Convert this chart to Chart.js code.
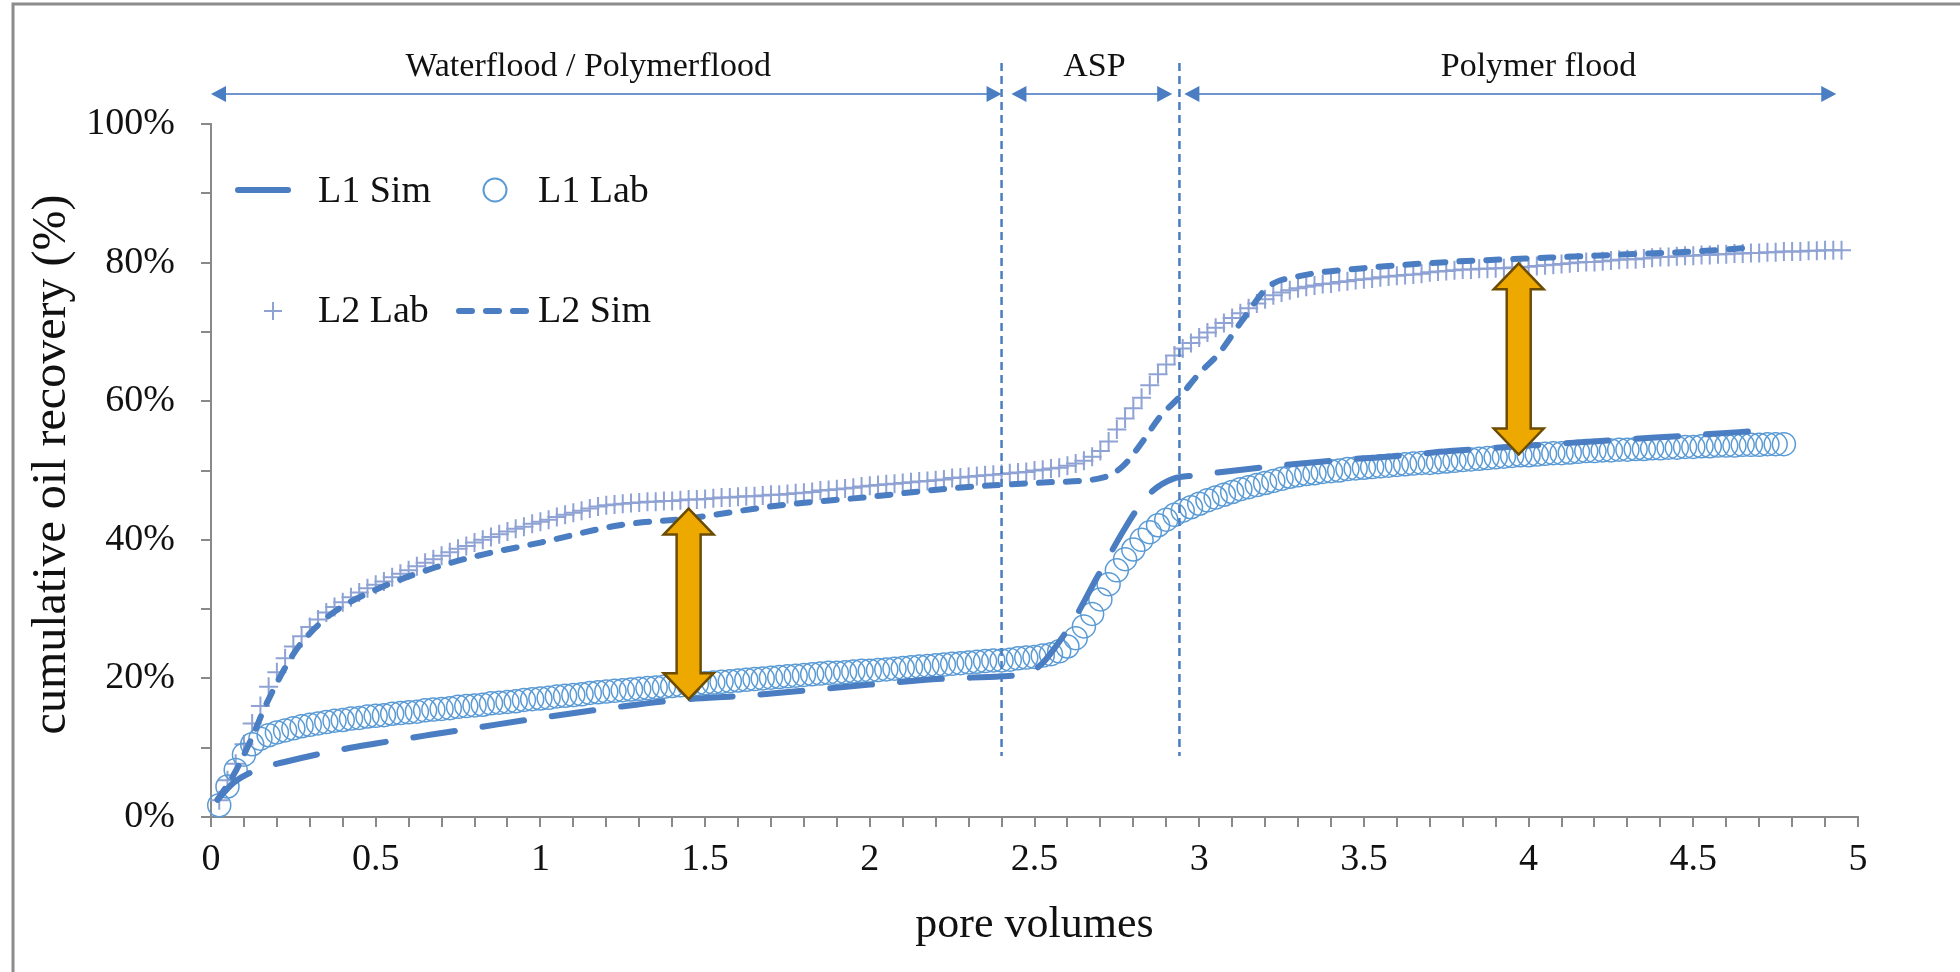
<!DOCTYPE html>
<html>
<head>
<meta charset="utf-8">
<script src="https://cdn.jsdelivr.net/npm/chart.js@4.4.0/dist/chart.umd.min.js"></script>
<style>
html,body{margin:0;padding:0;background:#fff;}
canvas{display:block;}
</style>
</head>
<body>
<canvas id="myChart" width="1960" height="972"></canvas>
<script>
// pore volumes at which the lab recoveries were read
const pvLab = [
  0.025,0.05,0.075,0.1,0.125,0.15,0.175,0.2,0.225,0.25,0.275,0.3,0.325,0.35,0.375,0.4,0.425,0.45,0.475,0.5,
  0.525,0.55,0.575,0.6,0.625,0.65,0.675,0.7,0.725,0.75,0.775,0.8,0.825,0.85,0.875,0.9,0.925,0.95,0.975,1,
  1.025,1.05,1.075,1.1,1.125,1.15,1.175,1.2,1.225,1.25,1.275,1.3,1.325,1.35,1.375,1.4,1.425,1.45,1.475,1.5,
  1.525,1.55,1.575,1.6,1.625,1.65,1.675,1.7,1.725,1.75,1.775,1.8,1.825,1.85,1.875,1.9,1.925,1.95,1.975,2,
  2.025,2.05,2.075,2.1,2.125,2.15,2.175,2.2,2.225,2.25,2.275,2.3,2.325,2.35,2.375,2.4,2.425,2.45,2.475,2.5,
  2.525,2.55,2.575,2.6,2.625,2.65,2.675,2.7,2.725,2.75,2.775,2.8,2.825,2.85,2.875,2.9,2.925,2.95,2.975,3,
  3.025,3.05,3.075,3.1,3.125,3.15,3.175,3.2,3.225,3.25,3.275,3.3,3.325,3.35,3.375,3.4,3.425,3.45,3.475,3.5,
  3.525,3.55,3.575,3.6,3.625,3.65,3.675,3.7,3.725,3.75,3.775,3.8,3.825,3.85,3.875,3.9,3.925,3.95,3.975,4,
  4.025,4.05,4.075,4.1,4.125,4.15,4.175,4.2,4.225,4.25,4.275,4.3,4.325,4.35,4.375,4.4,4.425,4.45,4.475,4.5,
  4.525,4.55,4.575,4.6,4.625,4.65,4.675,4.7,4.725,4.75,4.775,4.8,4.825,4.85,4.875,4.9,4.925,4.95
];

// L1 lab recovery (%)
const l1Lab = [
  1.7,4.4,6.8,9.0,10.5,11.3,11.8,12.2,12.5,12.8,13.1,13.3,13.5,13.7,13.9,14.0,14.2,14.3,14.5,14.6,
  14.7,14.9,15.0,15.1,15.2,15.4,15.5,15.6,15.7,15.9,16.0,16.1,16.2,16.4,16.5,16.6,16.7,16.9,17.0,17.1,
  17.2,17.4,17.5,17.6,17.7,17.9,18.0,18.1,18.2,18.3,18.4,18.5,18.6,18.7,18.8,18.9,19.0,19.1,19.2,19.3,
  19.4,19.5,19.6,19.7,19.8,19.9,20.0,20.1,20.2,20.3,20.4,20.5,20.6,20.7,20.8,20.8,20.9,21.0,21.1,21.1,
  21.2,21.3,21.4,21.5,21.6,21.7,21.8,21.9,22.0,22.1,22.2,22.3,22.4,22.5,22.6,22.6,22.7,22.9,23.0,23.1,
  23.3,23.5,23.9,24.6,25.8,27.5,29.3,31.4,33.6,35.6,37.2,38.6,40.0,41.1,42.1,42.9,43.6,44.2,44.7,45.2,
  45.7,46.1,46.5,46.9,47.3,47.6,47.9,48.2,48.5,48.8,49.1,49.3,49.5,49.6,49.8,49.9,50.0,50.2,50.3,50.4,
  50.5,50.6,50.7,50.8,50.9,51.0,51.1,51.1,51.2,51.3,51.4,51.5,51.6,51.7,51.8,51.9,52.0,52.1,52.2,52.2,
  52.3,52.4,52.5,52.5,52.6,52.7,52.8,52.8,52.9,52.9,53.0,53.0,53.1,53.1,53.2,53.2,53.3,53.3,53.4,53.4,
  53.5,53.5,53.6,53.6,53.6,53.7,53.7,53.7,53.8,53.8,53.8
];

// L2 lab recovery (%)
const l2Lab = [
  2.4,5.3,7.7,10.5,13.5,16.0,18.8,20.9,22.9,24.6,26.1,27.4,28.5,29.5,30.3,31.0,31.7,32.4,33.0,33.5,
  34.0,34.6,35.1,35.6,36.2,36.7,37.2,37.7,38.2,38.7,39.1,39.6,40.0,40.4,40.8,41.2,41.6,41.9,42.3,42.6,
  42.9,43.3,43.6,43.9,44.2,44.5,44.8,45.0,45.1,45.2,45.3,45.4,45.5,45.5,45.6,45.6,45.7,45.8,45.8,45.9,
  46.0,46.1,46.1,46.2,46.3,46.3,46.4,46.5,46.5,46.6,46.7,46.8,46.9,47.1,47.2,47.3,47.4,47.5,47.7,47.8,
  47.9,48.0,48.1,48.2,48.3,48.4,48.5,48.6,48.7,48.9,49.0,49.1,49.2,49.3,49.4,49.5,49.6,49.7,49.8,50.0,
  50.1,50.3,50.4,50.7,51.0,51.4,52.0,52.8,54.2,55.9,57.5,59.0,60.5,62.3,63.9,65.3,66.6,67.6,68.4,69.2,
  69.9,70.6,71.3,72.0,72.7,73.4,74.1,74.7,75.3,75.7,76.0,76.3,76.5,76.7,76.9,77.0,77.2,77.3,77.5,77.6,
  77.7,77.9,78.0,78.1,78.2,78.3,78.4,78.6,78.7,78.8,78.9,79.0,79.0,79.1,79.1,79.2,79.2,79.3,79.3,79.4,
  79.5,79.6,79.7,79.8,79.9,80.0,80.1,80.1,80.2,80.3,80.4,80.5,80.5,80.6,80.7,80.8,80.8,80.9,81.0,81.0,
  81.1,81.1,81.2,81.2,81.3,81.3,81.4,81.4,81.5,81.5,81.6,81.6,81.6,81.7,81.7,81.8,81.8,81.8
];

// simulation curves
const l1SimPV = [0.02,0.07,0.15,0.22,0.37,0.5,0.67,0.82,1.0,1.24,1.4,1.65,2.0,2.24,2.4,2.48,2.52,2.56,2.62,2.69,2.73,2.77,2.81,2.86,2.92,2.99,3.2,3.4,3.6,3.76,4.0,4.3,4.5,4.72];
const l1Sim = [2.5,5.0,7.0,7.9,9.5,10.6,11.9,13.0,14.3,15.9,16.8,17.6,19.1,20.0,20.3,20.8,22.0,24.3,28.5,34.6,38.0,41.3,44.3,47.1,48.8,49.3,50.5,51.4,52.1,52.8,53.6,54.5,55.1,55.8];
const l2SimPV = [0.02,0.07,0.12,0.17,0.25,0.3,0.38,0.5,0.68,0.81,1.0,1.24,1.45,1.73,2.0,2.24,2.54,2.71,2.77,2.83,2.88,2.94,3.0,3.06,3.13,3.21,3.3,3.5,3.76,4.0,4.25,4.5,4.69];
const l2Sim = [2.5,6.2,11.0,16.5,23.5,26.5,29.8,32.8,36.0,37.7,39.6,42.1,43.1,45.0,46.2,47.4,48.3,49.0,50.7,54.3,57.7,60.6,64.0,66.9,71.6,76.5,78.0,79.2,80.1,80.6,81.1,81.6,82.2];

// flooding stages shown above the plot
const phaseLabels = ['Waterflood / Polymerflood', 'ASP', 'Polymer flood'];
const phaseFrom = [0, 2.43, 2.955];
const phaseTo = [2.40, 2.918, 4.934];
const phaseTextAt = [1.145, 2.682, 4.03];
const phaseBounds = [2.40, 2.94];

// gold double arrows: pore volume, top and bottom recovery
const gapPV = [1.45, 3.97];
const gapTop = [44.5, 79.9];
const gapBottom = [17.0, 52.3];

const serif = '"Times New Roman", "Liberation Serif", serif';
const simBlue = '#4A7DC1';

function zip(xs, ys) {
  return ys.map(function(v, i){ return {x: xs[i], y: v}; });
}

function headTri(ctx, x, y, dir) {
  ctx.beginPath();
  ctx.moveTo(x, y);
  ctx.lineTo(x - dir * 15, y - 8);
  ctx.lineTo(x - dir * 15, y + 8);
  ctx.closePath();
  ctx.fill();
}

function goldArrow(ctx, cx, yTop, yBot) {
  const hw = 12, hh = 25, hl = 26;
  ctx.beginPath();
  ctx.moveTo(cx, yTop);
  ctx.lineTo(cx + hh, yTop + hl);
  ctx.lineTo(cx + hw, yTop + hl);
  ctx.lineTo(cx + hw, yBot - hl);
  ctx.lineTo(cx + hh, yBot - hl);
  ctx.lineTo(cx, yBot);
  ctx.lineTo(cx - hh, yBot - hl);
  ctx.lineTo(cx - hw, yBot - hl);
  ctx.lineTo(cx - hw, yTop + hl);
  ctx.lineTo(cx - hh, yTop + hl);
  ctx.closePath();
  ctx.fillStyle = '#EEA900';
  ctx.fill();
  ctx.lineWidth = 2.5;
  ctx.lineJoin = 'miter';
  ctx.strokeStyle = '#6B4C00';
  ctx.stroke();
}

const overlay = {
  id: 'overlay',
  afterDraw(chart) {
    const ctx = chart.ctx;
    const a = chart.chartArea;
    const xs = chart.scales.x, ys = chart.scales.y;
    ctx.save();

    // picture frame
    ctx.strokeStyle = '#8c8c8c';
    ctx.lineWidth = 3;
    ctx.beginPath();
    ctx.moveTo(13, 972);
    ctx.lineTo(13, 4);
    ctx.lineTo(1960, 4);
    ctx.stroke();

    // stage boundaries
    ctx.strokeStyle = simBlue;
    ctx.lineWidth = 2.5;
    ctx.setLineDash([8, 5]);
    phaseBounds.forEach(function(v){
      const px = xs.getPixelForValue(v);
      ctx.beginPath();
      ctx.moveTo(px, a.top - 61);
      ctx.lineTo(px, ys.getPixelForValue(8.8));
      ctx.stroke();
    });
    ctx.setLineDash([]);

    // stage arrows and names
    const ay = a.top - 30;
    ctx.lineWidth = 2;
    ctx.strokeStyle = '#6E97D0';
    ctx.fillStyle = simBlue;
    phaseLabels.forEach(function(lbl, i){
      const x0 = xs.getPixelForValue(phaseFrom[i]);
      const x1 = xs.getPixelForValue(phaseTo[i]);
      ctx.beginPath();
      ctx.moveTo(x0 + 10, ay);
      ctx.lineTo(x1 - 10, ay);
      ctx.stroke();
      headTri(ctx, x0, ay, -1);
      headTri(ctx, x1, ay, 1);
    });
    ctx.fillStyle = '#111';
    ctx.font = '34px ' + serif;
    ctx.textAlign = 'center';
    ctx.textBaseline = 'alphabetic';
    phaseLabels.forEach(function(lbl, i){
      ctx.fillText(lbl, xs.getPixelForValue(phaseTextAt[i]), a.top - 48);
    });

    // gold arrows
    gapPV.forEach(function(v, i){
      goldArrow(ctx, xs.getPixelForValue(v), ys.getPixelForValue(gapTop[i]), ys.getPixelForValue(gapBottom[i]));
    });

    // legend
    const l = a.left, t = a.top;
    ctx.lineCap = 'round';
    ctx.strokeStyle = simBlue;
    ctx.lineWidth = 6;
    ctx.beginPath();
    ctx.moveTo(l + 27, t + 66);
    ctx.lineTo(l + 77, t + 66);
    ctx.stroke();
    ctx.setLineDash([13, 14]);
    ctx.beginPath();
    ctx.moveTo(l + 248, t + 187);
    ctx.lineTo(l + 318, t + 187);
    ctx.stroke();
    ctx.setLineDash([]);
    ctx.lineCap = 'butt';
    ctx.strokeStyle = '#5B9BD5';
    ctx.lineWidth = 2;
    ctx.beginPath();
    ctx.arc(l + 284, t + 66, 11.5, 0, Math.PI * 2);
    ctx.stroke();
    ctx.strokeStyle = '#8FA2D4';
    ctx.beginPath();
    ctx.moveTo(l + 53, t + 187); ctx.lineTo(l + 71, t + 187);
    ctx.moveTo(l + 62, t + 178); ctx.lineTo(l + 62, t + 196);
    ctx.stroke();
    ctx.fillStyle = '#111';
    ctx.font = '38px ' + serif;
    ctx.textAlign = 'left';
    ctx.fillText('L1 Sim', l + 107, t + 78);
    ctx.fillText('L1 Lab', l + 327, t + 78);
    ctx.fillText('L2 Lab', l + 107, t + 198);
    ctx.fillText('L2 Sim', l + 327, t + 198);

    // axis titles
    ctx.textAlign = 'center';
    ctx.font = '44px ' + serif;
    ctx.fillText('pore volumes', (a.left + a.right) / 2, a.bottom + 120);
    ctx.save();
    ctx.translate(52, (a.top + a.bottom) / 2 - 6);
    ctx.rotate(-Math.PI / 2);
    ctx.textBaseline = 'middle';
    ctx.font = '48px ' + serif;
    ctx.fillText('cumulative oil recovery (%)', 0, 0);
    ctx.restore();

    ctx.restore();
  }
};

const axisGray = '#898989';

new Chart('myChart', {
  type: 'scatter',
  data: {
    datasets: [{
      label: 'L1 Sim',
      data: zip(l1SimPV, l1Sim),
      showLine: true,
      borderColor: simBlue,
      borderWidth: 6,
      borderDash: [42, 28],
      borderCapStyle: 'round',
      cubicInterpolationMode: 'monotone',
      pointRadius: 0,
      clip: false,
      order: 1
    }, {
      label: 'L2 Sim',
      data: zip(l2SimPV, l2Sim),
      showLine: true,
      borderColor: simBlue,
      borderWidth: 6,
      borderDash: [13, 14],
      borderCapStyle: 'round',
      cubicInterpolationMode: 'monotone',
      pointRadius: 0,
      clip: false,
      order: 1
    }, {
      label: 'L1 Lab',
      data: zip(pvLab, l1Lab),
      showLine: false,
      pointStyle: 'circle',
      pointRadius: 11.5,
      pointBorderWidth: 1.5,
      pointBorderColor: '#5B9BD5',
      pointBackgroundColor: 'rgba(0,0,0,0)',
      clip: false,
      order: 2
    }, {
      label: 'L2 Lab',
      data: zip(pvLab, l2Lab),
      showLine: false,
      pointStyle: 'cross',
      pointRadius: 9.5,
      pointBorderWidth: 2,
      pointBorderColor: '#8FA2D4',
      clip: false,
      order: 3
    }]
  },
  options: {
    responsive: false,
    animation: false,
    events: [],
    layout: {padding: {top: 124, right: 102, left: 0, bottom: 0}},
    plugins: {
      legend: {display: false},
      tooltip: {enabled: false}
    },
    scales: {
      x: {
        type: 'linear',
        min: 0, max: 5,
        afterFit: function(s){ s.height = 155; },
        border: {display: true, color: axisGray, width: 2},
        grid: {display: true, drawOnChartArea: false, drawTicks: true, tickLength: 10, color: axisGray, lineWidth: 2},
        ticks: {
          stepSize: 0.1,
          autoSkip: false,
          maxRotation: 0,
          padding: 10,
          color: '#111',
          font: {family: serif, size: 38},
          callback: function(v){
            const t = Math.round(v * 10);
            return t % 5 === 0 ? String(t / 10) : '';
          }
        }
      },
      y: {
        min: 0, max: 100,
        afterFit: function(s){ s.width = 211; },
        border: {display: true, color: axisGray, width: 2},
        grid: {display: true, drawOnChartArea: false, drawTicks: true, tickLength: 10, color: axisGray, lineWidth: 2},
        ticks: {
          stepSize: 10,
          autoSkip: false,
          padding: 26,
          color: '#111',
          font: {family: serif, size: 38},
          callback: function(v){ return v % 20 === 0 ? v + '%' : ''; }
        }
      }
    }
  },
  plugins: [overlay]
});
</script>
</body>
</html>
